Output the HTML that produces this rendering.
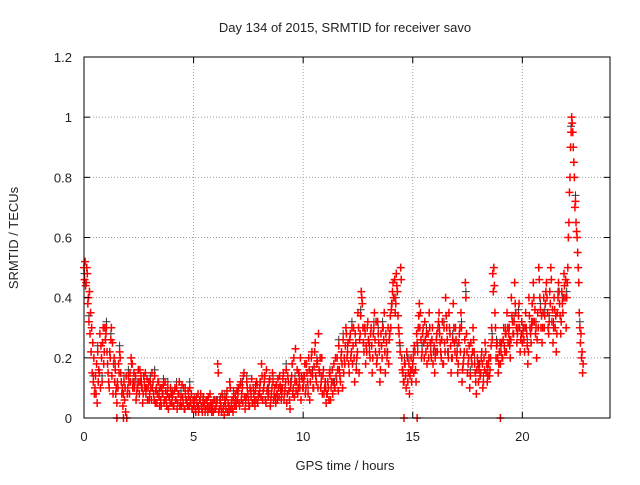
<!DOCTYPE html>
<html><head><meta charset="utf-8"><style>
body{margin:0;background:#fff;}
svg text{font-family:"Liberation Sans",sans-serif;font-size:13px;fill:#222;}
</style></head><body>
<svg width="640" height="480" xmlns="http://www.w3.org/2000/svg">
<rect width="640" height="480" fill="#fff"/>
<g id="grid"></g>
<g id="pts"></g>
<rect x="84" y="57" width="526" height="361" fill="none" stroke="#000" stroke-width="1"/>
<g id="axes"></g>
<text x="345" y="32" text-anchor="middle">Day 134 of 2015, SRMTID for receiver savo</text>
<text x="345" y="470" text-anchor="middle">GPS time / hours</text>
<text transform="translate(18,238) rotate(-90)" text-anchor="middle">SRMTID / TECUs</text>
</svg>
<script>
const xTicks=[0,5,10,15,20];
const yTicks=[0,0.2,0.4,0.6,0.8,1,1.2];
const yTickLabels=["0","0.2","0.4","0.6","0.8","1","1.2"];
const hourValues=[
[0.5,0.52,0.45,0.48,0.4,0.42,0.35,0.3,0.25,0.2,0.1,0.08,0.05,0.12,0.15,0.1,0.2,0.25,0.18,0.3],
[0.28,0.22,0.15,0.1,0.2,0.3,0.25,0.18,0.12,0.08,0.05,0.1,0.15,0.2,0.12,0.1,0.08,0.06,0.02,0.0],
[0.1,0.12,0.15,0.2,0.18,0.12,0.1,0.14,0.08,0.1,0.12,0.16,0.14,0.1,0.08,0.12,0.15,0.1,0.06,0.12],
[0.08,0.1,0.15,0.12,0.06,0.05,0.1,0.08,0.12,0.04,0.06,0.1,0.08,0.05,0.12,0.06,0.08,0.03,0.07,0.1],
[0.05,0.08,0.04,0.1,0.06,0.03,0.08,0.12,0.05,0.04,0.07,0.1,0.03,0.06,0.05,0.09,0.04,0.06,0.08,0.03],
[0.04,0.06,0.02,0.05,0.08,0.03,0.06,0.04,0.02,0.07,0.05,0.03,0.06,0.02,0.04,0.08,0.03,0.05,0.02,0.06],
[0.03,0.05,0.18,0.02,0.06,0.04,0.08,0.03,0.01,0.05,0.07,0.02,0.04,0.12,0.03,0.06,0.02,0.05,0.08,0.04],
[0.06,0.1,0.04,0.12,0.08,0.05,0.15,0.03,0.07,0.1,0.06,0.04,0.09,0.13,0.05,0.08,0.04,0.06,0.11,0.07],
[0.08,0.12,0.18,0.06,0.1,0.14,0.05,0.09,0.07,0.12,0.04,0.08,0.15,0.06,0.1,0.05,0.08,0.13,0.07,0.11],
[0.06,0.1,0.15,0.08,0.12,0.05,0.14,0.09,0.03,0.12,0.18,0.1,0.07,0.23,0.12,0.08,0.15,0.1,0.06,0.13],
[0.1,0.14,0.08,0.18,0.12,0.2,0.06,0.15,0.22,0.1,0.17,0.25,0.12,0.19,0.28,0.15,0.1,0.2,0.14,0.08],
[0.12,0.05,0.08,0.1,0.15,0.06,0.12,0.08,0.18,0.1,0.14,0.2,0.09,0.16,0.12,0.22,0.1,0.15,0.18,0.3],
[0.2,0.25,0.15,0.28,0.22,0.18,0.3,0.12,0.25,0.2,0.35,0.15,0.28,0.42,0.38,0.25,0.3,0.18,0.22,0.32],
[0.25,0.2,0.3,0.15,0.28,0.35,0.22,0.18,0.32,0.25,0.12,0.28,0.2,0.3,0.35,0.15,0.25,0.22,0.18,0.28],
[0.3,0.38,0.45,0.4,0.35,0.48,0.42,0.3,0.25,0.5,0.2,0.15,0.12,0.18,0.1,0.2,0.15,0.08,0.16,0.12],
[0.18,0.15,0.22,0.12,0.25,0.3,0.38,0.35,0.2,0.28,0.25,0.32,0.22,0.18,0.28,0.35,0.25,0.2,0.3,0.22],
[0.15,0.22,0.28,0.3,0.35,0.25,0.2,0.32,0.18,0.25,0.4,0.3,0.22,0.35,0.28,0.15,0.2,0.38,0.25,0.3],
[0.2,0.15,0.25,0.3,0.35,0.12,0.18,0.22,0.45,0.28,0.15,0.2,0.1,0.25,0.18,0.3,0.22,0.15,0.08,0.2],
[0.12,0.18,0.15,0.22,0.1,0.2,0.25,0.15,0.12,0.18,0.14,0.2,0.3,0.48,0.5,0.35,0.2,0.25,0.15,0.22],
[0.18,0.25,0.2,0.3,0.22,0.28,0.35,0.25,0.3,0.2,0.4,0.32,0.28,0.45,0.35,0.25,0.3,0.38,0.22,0.28],
[0.25,0.3,0.22,0.35,0.28,0.18,0.4,0.3,0.25,0.38,0.45,0.32,0.28,0.2,0.35,0.5,0.4,0.3,0.25,0.35],
[0.3,0.38,0.45,0.35,0.28,0.42,0.5,0.32,0.25,0.4,0.3,0.22,0.35,0.45,0.38,0.28,0.42,0.35,0.48,0.4],
[0.3,0.45,0.6,0.75,0.9,1.0,0.95,0.85,0.7,0.65,0.6,0.5,0.35,0.25,0.2,0.15]
];
const hourValuesB=[
[0.46,0.44,0.5,0.38,0.32,0.28,0.22,0.15,0.12,0.08,0.14,0.18,0.22,0.16,0.28,0.24,0.12,0.3,0.22,0.26],
[0.3,0.18,0.12,0.22,0.26,0.14,0.08,0.2,0.16,0.1,0.12,0.18,0.22,0.15,0.08,0.04,0.12,0.1,0.14,0.08],
[0.14,0.08,0.12,0.18,0.1,0.15,0.12,0.06,0.1,0.16,0.08,0.12,0.1,0.05,0.14,0.1,0.08,0.13,0.1,0.06],
[0.12,0.06,0.1,0.08,0.14,0.09,0.05,0.12,0.07,0.1,0.04,0.08,0.11,0.06,0.09,0.04,0.1,0.07,0.05,0.08],
[0.07,0.04,0.09,0.06,0.1,0.05,0.08,0.04,0.07,0.11,0.05,0.03,0.08,0.06,0.04,0.07,0.1,0.05,0.03,0.06],
[0.05,0.03,0.07,0.04,0.02,0.06,0.08,0.03,0.05,0.04,0.02,0.06,0.04,0.07,0.03,0.05,0.02,0.04,0.06,0.03],
[0.04,0.06,0.15,0.03,0.05,0.02,0.07,0.04,0.06,0.03,0.09,0.05,0.02,0.1,0.05,0.03,0.07,0.04,0.06,0.09],
[0.08,0.05,0.11,0.06,0.1,0.14,0.07,0.05,0.12,0.08,0.04,0.1,0.07,0.05,0.1,0.06,0.09,0.12,0.05,0.08],
[0.1,0.07,0.14,0.09,0.12,0.06,0.16,0.1,0.08,0.13,0.06,0.1,0.12,0.08,0.07,0.11,0.06,0.1,0.14,0.09],
[0.08,0.13,0.06,0.1,0.16,0.08,0.12,0.06,0.1,0.14,0.08,0.2,0.12,0.09,0.16,0.1,0.12,0.2,0.14,0.1],
[0.12,0.18,0.1,0.15,0.08,0.16,0.12,0.2,0.14,0.1,0.22,0.14,0.18,0.1,0.16,0.2,0.12,0.08,0.16,0.1],
[0.1,0.08,0.12,0.06,0.14,0.1,0.16,0.12,0.1,0.2,0.12,0.16,0.24,0.14,0.2,0.18,0.26,0.2,0.24,0.28],
[0.22,0.18,0.26,0.2,0.3,0.24,0.2,0.28,0.16,0.22,0.3,0.26,0.34,0.4,0.3,0.22,0.28,0.24,0.3,0.26],
[0.22,0.28,0.24,0.2,0.3,0.26,0.32,0.2,0.28,0.22,0.16,0.24,0.3,0.26,0.22,0.28,0.2,0.3,0.26,0.34],
[0.36,0.42,0.4,0.46,0.38,0.44,0.34,0.28,0.22,0.46,0.16,0.12,0.18,0.14,0.22,0.12,0.18,0.14,0.2,0.16],
[0.2,0.24,0.16,0.28,0.22,0.34,0.3,0.26,0.22,0.3,0.2,0.26,0.28,0.24,0.2,0.3,0.22,0.26,0.18,0.24],
[0.2,0.26,0.22,0.32,0.28,0.22,0.26,0.18,0.3,0.22,0.34,0.26,0.2,0.3,0.24,0.2,0.26,0.3,0.22,0.26],
[0.22,0.18,0.28,0.22,0.3,0.16,0.2,0.26,0.4,0.22,0.18,0.24,0.14,0.2,0.22,0.26,0.18,0.12,0.16,0.18],
[0.16,0.14,0.2,0.18,0.12,0.16,0.22,0.18,0.14,0.2,0.16,0.24,0.26,0.42,0.44,0.3,0.24,0.2,0.18,0.25],
[0.22,0.2,0.26,0.24,0.28,0.22,0.3,0.28,0.24,0.26,0.34,0.28,0.32,0.38,0.3,0.28,0.34,0.3,0.26,0.32],
[0.28,0.26,0.3,0.3,0.24,0.22,0.34,0.28,0.3,0.32,0.4,0.36,0.3,0.26,0.3,0.46,0.36,0.34,0.3,0.4],
[0.34,0.42,0.4,0.3,0.32,0.38,0.46,0.36,0.3,0.36,0.34,0.28,0.4,0.42,0.34,0.32,0.38,0.4,0.44,0.46],
[0.4,0.5,0.65,0.8,0.95,0.98,0.9,0.8,0.72,0.62,0.55,0.45,0.3,0.28,0.22,0.18]
];
const zeroTimes=[1.5,1.8,14.6,15.2,19.0];
const NS="http://www.w3.org/2000/svg";
const X0=84,X1=610,Y0=418,Y1=57,XMAX=24,YMAX=1.2;
function sx(v){return X0+(X1-X0)*v/XMAX;}
function sy(v){return Y0-(Y0-Y1)*v/YMAX;}
function mk(tag,attrs,parent){const e=document.createElementNS(NS,tag);for(const k in attrs)e.setAttribute(k,attrs[k]);parent.appendChild(e);return e;}
const grid=document.getElementById('grid'),axes=document.getElementById('axes'),pts=document.getElementById('pts');
xTicks.forEach(t=>{const x=sx(t);
 if(t>0){const g=mk('line',{x1:x,x2:x,y1:Y0,y2:Y1,stroke:'#a0a0a0','stroke-dasharray':'1,2'},grid);
 
 }
 mk('line',{x1:x,x2:x,y1:Y0,y2:Y0-6,stroke:'#000'},axes);
 mk('line',{x1:x,x2:x,y1:Y1,y2:Y1+6,stroke:'#000'},axes);
 const tx=mk('text',{x:x,y:Y0+23,'text-anchor':'middle'},axes);tx.textContent=t;
 
 
});
yTicks.forEach((t,i)=>{const y=sy(t);
 if(t>0&&t<YMAX){const g=mk('line',{x1:X0,x2:X1,y1:y,y2:y,stroke:'#a0a0a0','stroke-dasharray':'1,2'},grid);
 
 }
 mk('line',{x1:X0,x2:X0+6,y1:y,y2:y,stroke:'#000'},axes);
 mk('line',{x1:X1,x2:X1-6,y1:y,y2:y,stroke:'#000'},axes);
 const tx=mk('text',{x:X0-12,y:y+5,'text-anchor':'end'},axes);tx.textContent=yTickLabels[i];
 
 
});
let d='',db='';
function plus(t,v,dark){const x=sx(t),y=sy(v);const s=`M${x-4},${y}h8M${x},${y-4}v8`;if(dark)db+=s;else d+=s;}
hourValuesB.forEach((arr,h)=>arr.forEach((v,i)=>{if(i%4===0)plus(h+(i+0.5)/arr.length*(h===22?0.8:1),v+0.02,true);}));
hourValues.forEach((arr,h)=>arr.forEach((v,i)=>{plus(h+i/arr.length*(h===22?0.8:1),v);}));
hourValuesB.forEach((arr,h)=>arr.forEach((v,i)=>{plus(h+(i+0.5)/arr.length*(h===22?0.8:1),v);}));
zeroTimes.forEach(t=>plus(t,0));
const pb=mk('path',{d:db,stroke:'#333','stroke-width':'1',fill:'none'},pts);


const p=mk('path',{d:d,stroke:'#ff0000','stroke-width':'1.5',fill:'none'},pts);


</script>
</body></html>
